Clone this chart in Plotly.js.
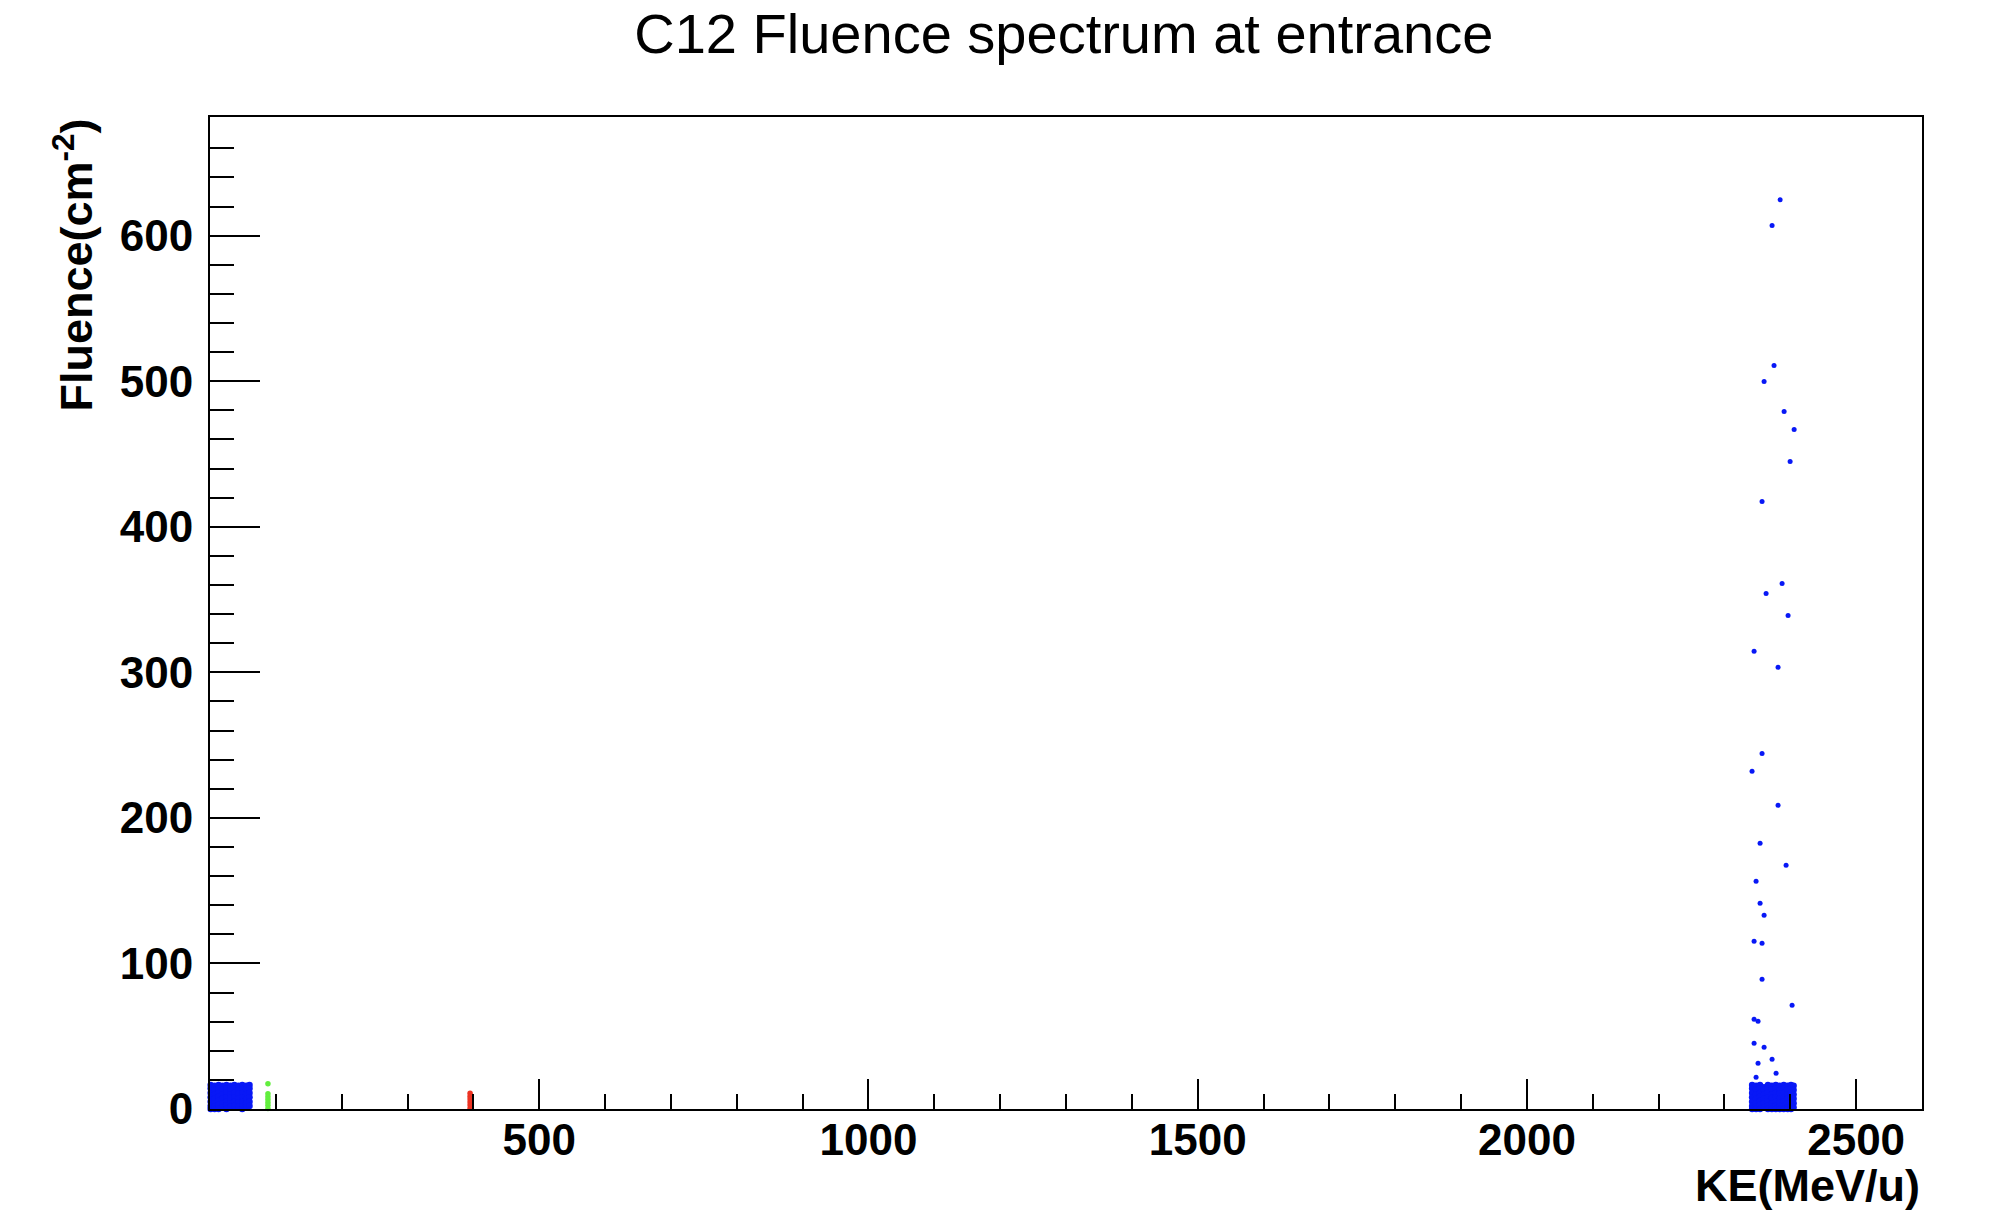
<!DOCTYPE html>
<html>
<head>
<meta charset="utf-8">
<script src="https://cdn.plot.ly/plotly-3.0.1.min.js"></script>
<style>html,body{margin:0;padding:0;background:#fff;}#chart{width:1990px;height:1226px;}</style>
</head>
<body>
<div id="chart"></div>
<script>
// ---- Data ----
// Low-energy cluster (blue)
const lowKE = [
  1,1,1,1,1,1,1,
  7,7,7,7,7,7,7,
  13,13,13,13,13,13,13,
  19,19,19,19,19,19,
  25,25,25,25,25,25,25,
  31,31,31,31,31,31,
  37,37,37,37,37,37,
  43,43,43,43,43,43,
  49,49,49,49,49,49,49,
  55,55,55,55,55,55,
  60,60,60,60,60,60
];
const lowF = [
  16.5,14,11,8,5,2,0,
  16,13,10,7,4,1.5,0,
  16.5,14,11,8.5,5.5,3,0,
  16,13,10,7,4,1,
  16.5,14,11.5,8,5,2.5,0,
  16,13.5,10,7.5,4,1.5,
  16.5,14,11,8,5,2,
  16,13,10.5,7,4.5,1.5,
  16.5,14,11,8,5,2,0,
  16,13.5,10,7,4,1,
  16.5,14,11,8,5,2
];
// Primary peak cluster (blue), dense low part
const peakKE = [
  2342,2342,2342,2342,2342,2342,2342,
  2348,2348,2348,2348,2348,2348,2348,
  2354,2354,2354,2354,2354,2354,2354,
  2360,2360,2360,2360,2360,2360,
  2366,2366,2366,2366,2366,2366,2366,
  2372,2372,2372,2372,2372,2372,2372,
  2378,2378,2378,2378,2378,2378,2378,
  2384,2384,2384,2384,2384,2384,2384,
  2390,2390,2390,2390,2390,2390,2390,
  2396,2396,2396,2396,2396,2396,2396,
  2401,2401,2401,2401,2401,2401,2401,
  2405,2405,2405,2405,2405,2405
];
const peakF = [
  16.5,14,11,8,5,2,0,
  16,13.5,10,7,4,1.5,0,
  16.5,14,11,8.5,5.5,3,0,
  15,13,10,7,4,1,
  16.5,14,11.5,8,5,2.5,0,
  16,13.5,10,7.5,4,1.5,0,
  16.5,14,11,8,5,2,0,
  16,13,10.5,7,4.5,1.5,0,
  16.5,14,11,8,5,2,0,
  16,13.5,10,7,4,1,0,
  16.5,14,11,8,5,2,0,
  16,13,10,7,4,1
];
// Primary peak: scattered high-fluence bins (blue)
const tailKE = [2384.5,2372.3,2375.3,2360.2,2390.6,2405.8,2399.7,2357.1,2387.5,2363.2,
                2396.6,2345.0,2381.4,2357.1,2341.9,2381.4,2354.1,2393.6,2348.0,2354.1,
                2360.2,2345.0,2357.1,2357.1,2402.7,2345.0,2351.0,2345.0,2360.2,2372.3,
                2351.0,2378.4,2348.0];
const tailF  = [624.7,606.9,510.7,499.8,479.2,466.8,444.8,417.4,361.1,354.2,
                339.1,314.4,303.4,244.3,232.0,208.6,182.5,167.4,156.4,141.3,
                133.1,115.2,113.8,89.1,71.3,61.7,60.3,45.2,42.4,34.2,
                31.4,24.6,21.8];
// Green series
const greenKE = [88,88,88,88,88,88,88];
const greenF  = [17.4,10.5,8.5,6.5,4.5,2.5,0.3];
// Red series
const redKE = [395,395,395,395,395,395];
const redF  = [10.8,8.8,6.8,4.8,2.8,0.6];

const xTicks = [500,1000,1500,2000,2500];
const yTicks = [0,100,200,300,400,500,600];
const yMinorTicks = [20,40,60,80,120,140,160,180,220,240,260,280,320,340,360,380,
                     420,440,460,480,520,540,560,580,620,640,660];

const BLUE = '#0818f6';
const mk = (c, s) => ({color: c, size: s, symbol: 'circle', line: {width: 0}});

const traces = [
  {x: lowKE, y: lowF, type: 'scatter', mode: 'markers', marker: mk(BLUE, 6.5), cliponaxis: false, hoverinfo: 'x+y'},
  {x: peakKE, y: peakF, type: 'scatter', mode: 'markers', marker: mk(BLUE, 6.5), cliponaxis: false, hoverinfo: 'x+y'},
  {x: tailKE, y: tailF, type: 'scatter', mode: 'markers', marker: mk(BLUE, 5), cliponaxis: false, hoverinfo: 'x+y'},
  {x: greenKE, y: greenF, type: 'scatter', mode: 'markers', marker: mk('#62ee3e', 5.5), cliponaxis: false, hoverinfo: 'x+y'},
  {x: redKE, y: redF, type: 'scatter', mode: 'markers', marker: mk('#ec3322', 5.5), cliponaxis: false, hoverinfo: 'x+y'}
];

const tickFont = {family: 'Liberation Sans, Arial, sans-serif', size: 44, color: '#000', weight: 'bold'};

const layout = {
  width: 1990, height: 1226,
  paper_bgcolor: '#fff', plot_bgcolor: '#fff',
  showlegend: false,
  margin: {l: 210, r: 68, t: 117, b: 117, pad: 0},
  title: {
    text: 'C12 Fluence spectrum at entrance',
    font: {family: 'Liberation Sans, Arial, sans-serif', size: 56, color: '#000'},
    x: 0.5346, xanchor: 'center', xref: 'container',
    y: 1 - 33/1226, yanchor: 'middle', yref: 'container'
  },
  xaxis: {
    range: [0, 2600],
    tickmode: 'array', tickvals: xTicks, ticktext: xTicks.map(String),
    ticks: 'inside', ticklen: 30, tickwidth: 2, tickcolor: '#000',
    minor: {tickmode: 'linear', tick0: 0, dtick: 100, ticks: 'inside', ticklen: 15, tickwidth: 2, tickcolor: '#000'},
    showline: true, linecolor: '#000', linewidth: 2, mirror: true,
    showgrid: false, zeroline: false,
    tickfont: tickFont, ticklabelstandoff: -9
  },
  yaxis: {
    range: [0, 681.5],
    tickmode: 'array', tickvals: yTicks, ticktext: yTicks.map(String),
    ticks: 'inside', ticklen: 50, tickwidth: 2, tickcolor: '#000',
    minor: {tickmode: 'array', tickvals: yMinorTicks, ticks: 'inside', ticklen: 24, tickwidth: 2, tickcolor: '#000'},
    showline: true, linecolor: '#000', linewidth: 2, mirror: true,
    showgrid: false, zeroline: false,
    tickfont: tickFont, ticklabelstandoff: 6
  },
  annotations: [
    {
      text: 'KE(MeV/u)', showarrow: false,
      xref: 'paper', x: 1, xanchor: 'right',
      yref: 'paper', y: -(1185 - 1109) / 992, yanchor: 'middle',
      font: {family: 'Liberation Sans, Arial, sans-serif', size: 45, color: '#000', weight: 'bold'}
    },
    {
      text: 'Fluence(cm<sup>-2</sup>)', showarrow: false, textangle: -90,
      xref: 'paper', x: (73 - 210) / 1712, xanchor: 'center',
      yref: 'paper', y: 1, yanchor: 'top',
      font: {family: 'Liberation Sans, Arial, sans-serif', size: 45, color: '#000', weight: 'bold'}
    }
  ]
};

Plotly.newPlot('chart', traces, layout, {displayModeBar: false, staticPlot: true});
</script>
</body>
</html>
